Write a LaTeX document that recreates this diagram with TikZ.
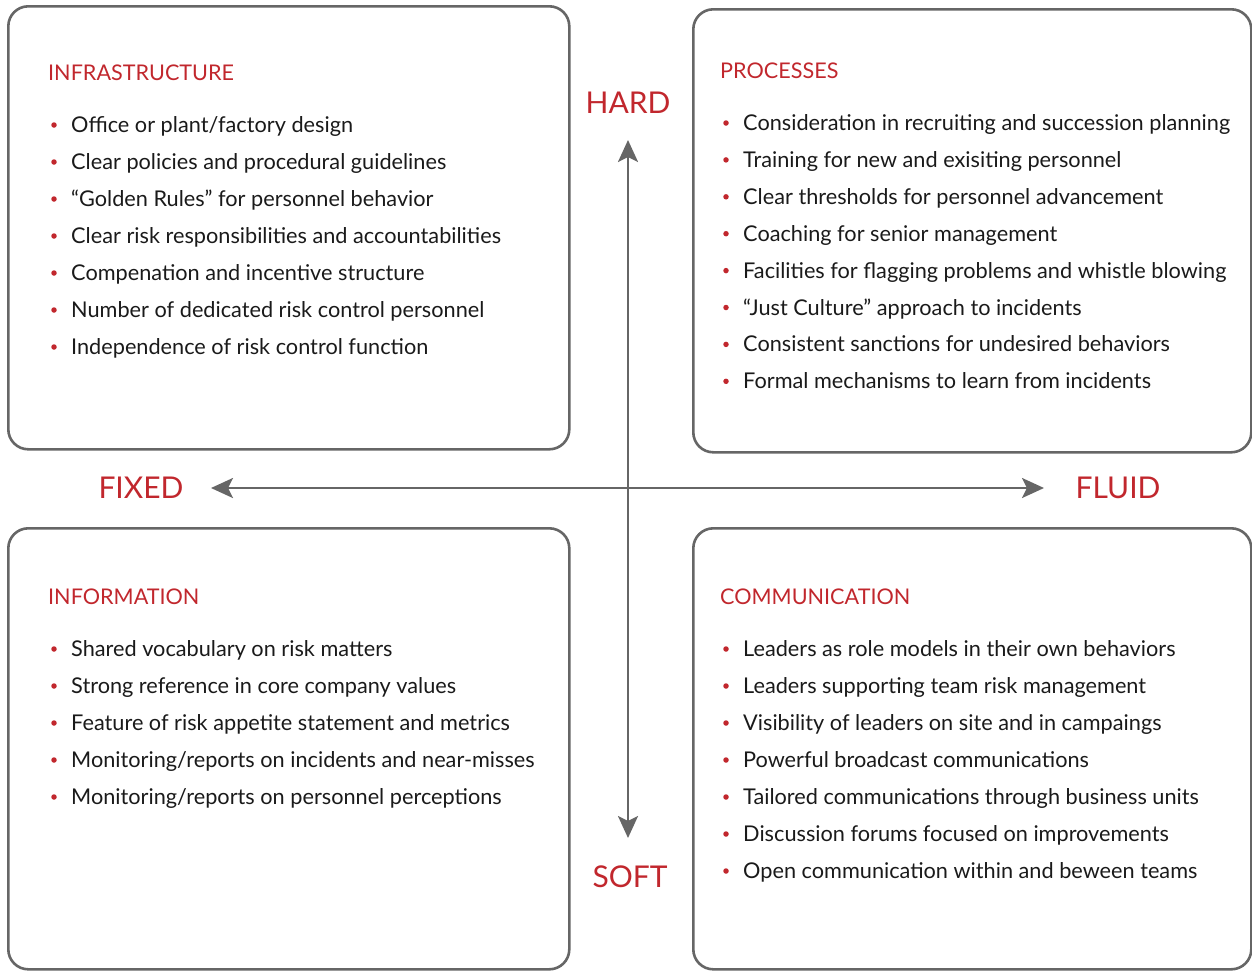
\documentclass[tikz,border=0pt]{standalone}
\usepackage{fontspec}
\setmainfont{Lato}
\usetikzlibrary{arrows.meta}
\definecolor{rred}{HTML}{C1272D}
\definecolor{lgray}{HTML}{666666}
\definecolor{tblack}{HTML}{1A1A1A}
\begin{document}
\begin{tikzpicture}[x=1pt,y=-1pt,
  panel/.style={draw=lgray,line width=2.6pt,rounded corners=20pt},
  head/.style={anchor=base west,inner sep=0pt,text=rred,font=\fontsize{21.6}{26}\selectfont},
  item/.style={anchor=base west,inner sep=0pt,text=tblack,font=\fontsize{21.7}{26}\selectfont},
  bul/.style={circle,fill=rred,inner sep=0pt,minimum size=5.5pt},
  axlab/.style={inner sep=0pt,text=rred,font=\fontsize{30}{36}\selectfont},
  axis/.style={draw=lgray,line width=2.8pt,{Stealth[length=22pt,width=20pt,inset=5pt]}-{Stealth[length=22pt,width=20pt,inset=5pt]}}
]
\useasboundingbox (0,0) rectangle (1252,970);
% panels
\node[panel,minimum width=561pt,minimum height=443pt,anchor=north west] (tl) at (7,5) {};
\node[panel,minimum width=558pt,minimum height=443pt,anchor=north west] (tr) at (692,8) {};
\node[panel,minimum width=561pt,minimum height=441pt,anchor=north west] (bl) at (7,527) {};
\node[panel,minimum width=558pt,minimum height=441pt,anchor=north west] (br) at (692,527) {};
% headers
\node[head] (h1) at (48,80) {INFRASTRUCTURE};
\node[head] (h2) at (720,78) {PROCESSES};
\node[head] (h3) at (48,604) {INFORMATION};
\node[head] (h4) at (720,604) {COMMUNICATION};
% top-left items
\foreach \t [count=\i] in {Office or plant/factory design,Clear policies and procedural guidelines,“Golden Rules” for personnel behavior,Clear risk responsibilities and accountabilities,Compenation and incentive structure,Number of dedicated risk control personnel,Independence of risk control function}{
  \node[item] (a\i) at (71,{132.5+37*(\i-1)}) {\t};
  \node[bul] (ab\i) at (54,{125+37*(\i-1)}) {};
}
% top-right items
\foreach \t [count=\i] in {Consideration in recruiting and succession planning,Training for new and exisiting personnel,Clear thresholds for personnel advancement,Coaching for senior management,Facilities for flagging problems and whistle blowing,“Just Culture” approach to incidents,Consistent sanctions for undesired behaviors,Formal mechanisms to learn from incidents}{
  \node[item] (b\i) at (743,{130.5+36.9*(\i-1)}) {\t};
  \node[bul] (bb\i) at (726,{123+36.9*(\i-1)}) {};
}
% bottom-left items
\foreach \t [count=\i] in {Shared vocabulary on risk matters,Strong reference in core company values,Feature of risk appetite statement and metrics,Monitoring/reports on incidents and near-misses,Monitoring/reports on personnel perceptions}{
  \node[item] (c\i) at (71,{656.5+37*(\i-1)}) {\t};
  \node[bul] (cb\i) at (54,{649+37*(\i-1)}) {};
}
% bottom-right items
\foreach \t [count=\i] in {Leaders as role models in their own behaviors,Leaders supporting team risk management,Visibility of leaders on site and in campaings,Powerful broadcast communications,Tailored communications through business units,Discussion forums focused on improvements,Open communication within and beween teams}{
  \node[item] (d\i) at (743,{656.5+37*(\i-1)}) {\t};
  \node[bul] (db\i) at (726,{649+37*(\i-1)}) {};
}
% axis labels
\node[axlab] (hard) at (628,103) {HARD};
\node[axlab] (soft) at (630,877) {SOFT};
\node[axlab] (fixed) at (141,488) {FIXED};
\node[axlab] (fluid) at (1118,488) {FLUID};
% axes
\coordinate (left) at (211,488);
\coordinate (right) at (1044,488);
\coordinate (top) at (628,140);
\coordinate (bottom) at (628,838);
\draw[axis] (left) -- (right);
\draw[axis] (top) -- (bottom);
\end{tikzpicture}
\end{document}
